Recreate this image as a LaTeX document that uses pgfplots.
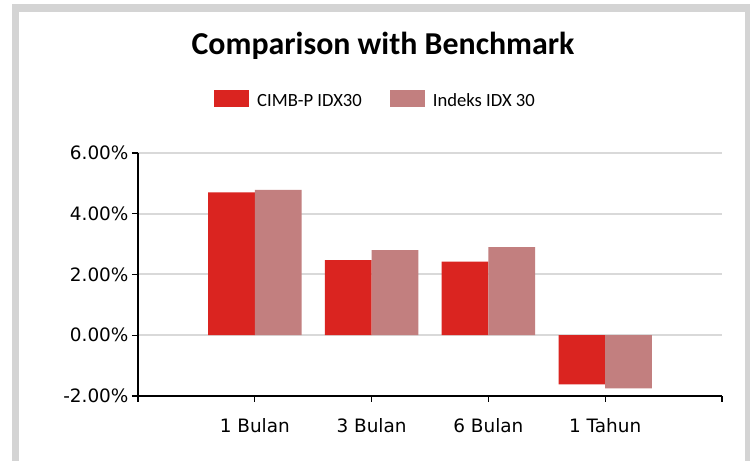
\documentclass[border=0pt]{standalone}
\usepackage{pgfplots}
\pgfplotsset{compat=1.18}
\usepackage{fontspec}
\setmainfont{Carlito}
\newfontfamily\dejavu{DejaVu Sans}
\definecolor{cimbred}{HTML}{DA2420}
\definecolor{idxpink}{HTML}{C27F7F}
\definecolor{gridgray}{HTML}{D9D9D9}
\definecolor{framegray}{HTML}{D4D4D4}
\begin{document}
\begin{tikzpicture}
\useasboundingbox (0,0) rectangle (754bp,461bp);
\fill[white] (0,0) rectangle (754bp,461bp);
\fill[framegray] (12bp,-5bp) rectangle (19bp,457bp);
\fill[framegray] (12bp,449bp) rectangle (750bp,457bp);
\fill[framegray] (745bp,-5bp) rectangle (750bp,457bp);
\node[font=\bfseries\fontsize{32}{35}\selectfont, anchor=base] at (383bp,406bp) {Comparison with Benchmark};
\begin{axis}[
  at={(138bp,65bp)}, anchor=south west,
  scale only axis, width=584bp, height=243bp,
  xmin=0, xmax=5, ymin=-2, ymax=6,
  axis lines=left,
  axis line style={-, line width=1.8bp, black},
  xtick={0,1,2,3,4,5},
  xticklabels={,1 Bulan,3 Bulan,6 Bulan,1 Tahun,},
  ytick={-2,0,2,4,6},
  yticklabels={-2.00\%,0.00\%,2.00\%,4.00\%,6.00\%},
  tick align=outside,
  major tick length=6bp,
  tick style={black, line width=1.2bp},
  ticklabel style={font=\dejavu\fontsize{18.5}{21}\selectfont},
  xticklabel style={yshift=-13bp},
  ymajorgrids,
  major grid style={gridgray, line width=2bp},
  legend style={at={(axis description cs:0.4067,1.218)}, anchor=center,
    draw=none, fill=none, legend columns=2,
    font=\fontsize{18.7}{21}\selectfont,
    /tikz/every odd column/.append style={column sep=6bp},
    /tikz/every even column/.append style={column sep=26bp}},
  legend image code/.code={\fill[#1] (0bp,-5.5bp) rectangle (35bp,11.5bp);},
]
\addplot[ybar, bar width=46.7bp, bar shift=-23.35bp, fill=cimbred, draw=none]
  coordinates {(1,4.70) (2,2.47) (3,2.42) (4,-1.62)};
\addlegendentry{CIMB-P IDX30}
\addplot[ybar, bar width=46.7bp, bar shift=23.35bp, fill=idxpink, draw=none]
  coordinates {(1,4.79) (2,2.80) (3,2.90) (4,-1.75)};
\addlegendentry{Indeks IDX 30}
\end{axis}
\end{tikzpicture}
\end{document}
